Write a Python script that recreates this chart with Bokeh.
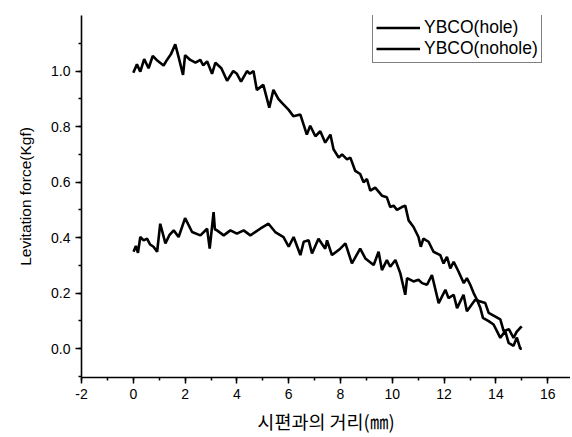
from bokeh.plotting import figure
from bokeh.models import Range1d, SingleIntervalTicker, Legend, LegendItem, NumeralTickFormatter
from bokeh.embed import file_html
from bokeh.resources import INLINE

# YBCO(hole) series
hole_x = [0.0, 0.14, 0.27, 0.42, 0.59, 0.75, 0.9, 1.17, 1.3, 1.45, 1.62, 1.75, 1.92, 2.0, 2.2, 2.4,
          2.59, 2.7, 2.85, 3.04, 3.17, 3.4, 3.62, 3.86, 4.0, 4.16, 4.39, 4.5, 4.64, 4.77, 5.02, 5.25,
          5.41, 5.6, 5.74, 6.0, 6.18, 6.45, 6.7, 6.83, 7.03, 7.22, 7.41, 7.61, 7.73, 7.93, 8.06, 8.25,
          8.38, 8.57, 8.76, 8.89, 9.02, 9.15, 9.34, 9.6, 9.79, 9.92, 10.05, 10.18, 10.37, 10.5, 10.63,
          10.82, 11.01, 11.1, 11.2, 11.4, 11.59, 11.85, 11.98, 12.11, 12.24, 12.37, 12.56, 12.76, 12.88,
          13.01, 13.14, 13.27, 13.4, 13.5, 13.72, 13.91, 14.04, 14.17, 14.36, 14.49, 14.68, 14.81,
          14.94, 15.0]
hole_y = [0.994, 1.024, 0.998, 1.043, 1.01, 1.054, 1.04, 1.02, 1.04, 1.06, 1.096, 1.05, 0.986, 1.057,
          1.04, 1.03, 1.04, 1.02, 1.035, 0.99, 1.03, 1.01, 0.965, 1.0, 0.99, 0.962, 1.0, 0.99, 1.0,
          0.932, 0.95, 0.868, 0.932, 0.9, 0.885, 0.86, 0.837, 0.843, 0.771, 0.803, 0.765, 0.783, 0.742,
          0.771, 0.718, 0.688, 0.7, 0.682, 0.688, 0.64, 0.629, 0.599, 0.611, 0.569, 0.58, 0.551, 0.545,
          0.51, 0.515, 0.5, 0.51, 0.515, 0.462, 0.438, 0.402, 0.367, 0.396, 0.385, 0.349, 0.337, 0.307,
          0.331, 0.289, 0.313, 0.277, 0.236, 0.254, 0.23, 0.2, 0.176, 0.146, 0.111, 0.099, 0.087, 0.063,
          0.039, 0.063, 0.021, 0.01, 0.04, 0.0, 0.0]

# YBCO(nohole) series
nohole_x = [0.01, 0.1, 0.18, 0.27, 0.4, 0.53, 0.65, 0.78, 0.92, 1.04, 1.24, 1.4, 1.56, 1.75, 2.0,
            2.27, 2.59, 2.85, 2.95, 3.1, 3.15, 3.23, 3.49, 3.75, 4.0, 4.26, 4.52, 4.9, 5.22, 5.48,
            5.8, 6.0, 6.19, 6.45, 6.58, 6.77, 6.9, 7.15, 7.41, 7.48, 7.67, 7.99, 8.19, 8.44, 8.76,
            8.96, 9.28, 9.47, 9.6, 9.79, 9.92, 10.12, 10.31, 10.5, 10.57, 10.82, 11.01, 11.15, 11.34,
            11.53, 11.79, 12.05, 12.17, 12.37, 12.5, 12.75, 12.88, 13.2, 13.4, 13.59, 13.72, 14.17,
            14.3, 14.5, 14.68, 14.8, 14.94, 15.0]
nohole_y = [0.349, 0.37, 0.345, 0.402, 0.39, 0.396, 0.375, 0.367, 0.349, 0.45, 0.379, 0.41, 0.426,
            0.402, 0.47, 0.42, 0.408, 0.432, 0.36, 0.492, 0.43, 0.426, 0.408, 0.426, 0.414, 0.426,
            0.408, 0.432, 0.45, 0.42, 0.402, 0.367, 0.402, 0.337, 0.385, 0.39, 0.343, 0.396, 0.36,
            0.39, 0.337, 0.36, 0.379, 0.307, 0.36, 0.325, 0.301, 0.349, 0.283, 0.319, 0.295, 0.319,
            0.271, 0.194, 0.254, 0.242, 0.248, 0.236, 0.23, 0.265, 0.164, 0.212, 0.182, 0.194, 0.146,
            0.194, 0.135, 0.176, 0.17, 0.164, 0.129, 0.105, 0.063, 0.07, 0.039, 0.06, 0.075, 0.08]

series_names = ["YBCO(hole)", "YBCO(nohole)"]
x_label = "시편과의 거리(㎜)"
y_label = "Levitation force(Kgf)"

p = figure(width=570, height=436, output_backend="svg", toolbar_location=None,
           x_range=Range1d(-2, 16.88), y_range=Range1d(-0.104, 1.2),
           min_border_left=81, min_border_right=0, min_border_top=15, min_border_bottom=55)
p.outline_line_color = None
p.xgrid.visible = False
p.ygrid.visible = False

r1 = p.line(hole_x, hole_y, line_color="black", line_width=2.6)
r2 = p.line(nohole_x, nohole_y, line_color="black", line_width=2.6)

font = "Liberation Sans"
p.xaxis.ticker = SingleIntervalTicker(interval=2, num_minor_ticks=2)
p.yaxis.ticker = SingleIntervalTicker(interval=0.2, num_minor_ticks=2)
p.xaxis.formatter = NumeralTickFormatter(format="0")
p.yaxis.formatter = NumeralTickFormatter(format="0.0")
for ax in (p.xaxis, p.yaxis):
    ax.axis_line_width = 1.6
    ax.axis_line_color = "black"
    ax.major_tick_line_color = "black"
    ax.minor_tick_line_color = "black"
    ax.major_tick_line_width = 1.5
    ax.minor_tick_line_width = 1.5
    ax.major_tick_out = 6
    ax.major_tick_in = 0
    ax.minor_tick_out = 3
    ax.minor_tick_in = 0
    ax.major_label_text_font = font
    ax.major_label_text_font_size = "14px"
    ax.major_label_text_color = "black"
    ax.axis_label_text_font_style = "normal"
    ax.axis_label_text_color = "black"

p.xaxis.axis_label = x_label
p.xaxis.axis_label_text_font = "Noto Sans CJK KR"
p.xaxis.axis_label_text_font_size = "18.5px"
p.xaxis.major_label_standoff = 5
p.xaxis.axis_label_standoff = 6

p.yaxis.axis_label = y_label
p.yaxis.axis_label_text_font = font
p.yaxis.axis_label_text_font_size = "15.5px"
p.yaxis.major_label_standoff = 5
p.yaxis.axis_label_standoff = 14

legend = Legend(items=[LegendItem(label=series_names[0], renderers=[r1]),
                       LegendItem(label=series_names[1], renderers=[r2])],
                location=(291, 314), padding=3, spacing=0, margin=0,
                glyph_width=44, glyph_height=21, label_height=21, label_standoff=4,
                label_text_font=font, label_text_font_size="17.5px", label_text_color="black",
                border_line_color="black", border_line_width=1, background_fill_color="white",
                background_fill_alpha=1)
p.add_layout(legend)

open("out.html", "w").write(file_html(p, INLINE))
